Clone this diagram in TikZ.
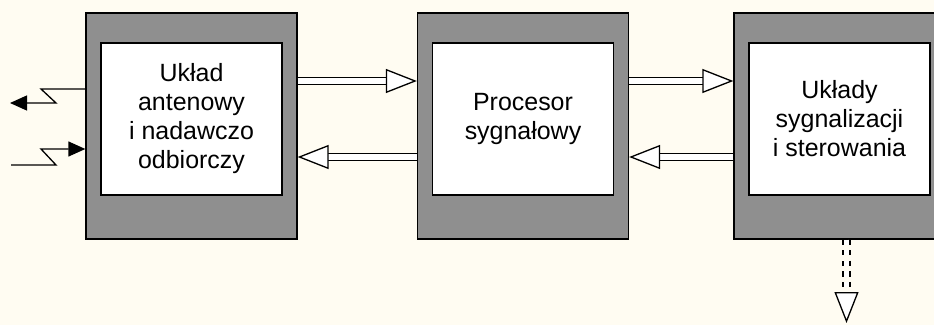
\documentclass[tikz,border=0pt]{standalone}
\usepackage{fontspec}
\setmainfont{Liberation Sans}
\usetikzlibrary{arrows.meta,calc}
\definecolor{paperBg}{HTML}{FFFCF2}
\definecolor{blockGray}{HTML}{8F8F8F}
\tikzset{
  radarOuter/.style={draw, fill=blockGray, line width=0.75pt, minimum width=4.22cm, minimum height=4.52cm, inner sep=0pt},
  radarInner/.style={draw, fill=white, line width=0.75pt, minimum width=3.62cm, minimum height=3.04cm, align=center, inner sep=0pt, font=\fontsize{14.2}{16.5}\selectfont},
  radarArrow/.style={double=white, double distance=3.2pt, line width=0.75pt, -{Triangle[open, fill=white, length=0.62cm, width=0.48cm]}},
  radarDashedArrow/.style={radarArrow, dashed},
  radarAntenna/.style={line width=0.75pt, -{Triangle[length=0.34cm, width=0.3cm]}}
}
\begin{document}
\begin{tikzpicture}
      \fill[paperBg] (0,0) rectangle (18.68,-6.5);
      \useasboundingbox (0,0) rectangle (18.68,-6.5);
      \clip (0,0) rectangle (18.68,-6.5);
      \node[radarOuter] (antenna) at (3.83,-2.52) {};
      \node[radarOuter] (processor) at (10.46,-2.52) {};
      \node[radarOuter] (control) at (16.79,-2.52) {};
      \node[radarInner] (antennaIn) at (3.83,-2.38) {Układ\\antenowy\\i nadawczo\\odbiorczy};
      \node[radarInner] (processorIn) at (10.46,-2.38) {Procesor\\sygnałowy};
      \node[radarInner] (controlIn) at (16.79,-2.38) {Układy\\sygnalizacji\\i sterowania};
      \coordinate (txEnd) at (0.2,-2.06);
      \coordinate (rxStart) at (0.22,-3.30);
      \coordinate (busEnd) at (16.93,-6.46);
      \draw[radarArrow] ([yshift=9mm]antenna.east) -- ([yshift=9mm]processor.west);
      \draw[radarArrow] ([yshift=-6.2mm]processor.west) -- ([yshift=-6.2mm]antenna.east);
      \draw[radarArrow] ([yshift=9mm]processor.east) -- ([yshift=9mm]control.west);
      \draw[radarArrow] ([yshift=-6.2mm]control.west) -- ([yshift=-6.2mm]processor.east);
      \draw[radarAntenna] ([yshift=7.4mm]antenna.west) -- (0.82,-1.78) -- (1.12,-2.06) -- (txEnd);
      \draw[radarAntenna] (rxStart) -- (1.12,-3.30) -- (0.82,-2.98) -- ([yshift=-4.6mm]antenna.west);
      \draw[radarDashedArrow] ([xshift=1.4mm]control.south) -- (busEnd);
    \end{tikzpicture}
\end{document}
